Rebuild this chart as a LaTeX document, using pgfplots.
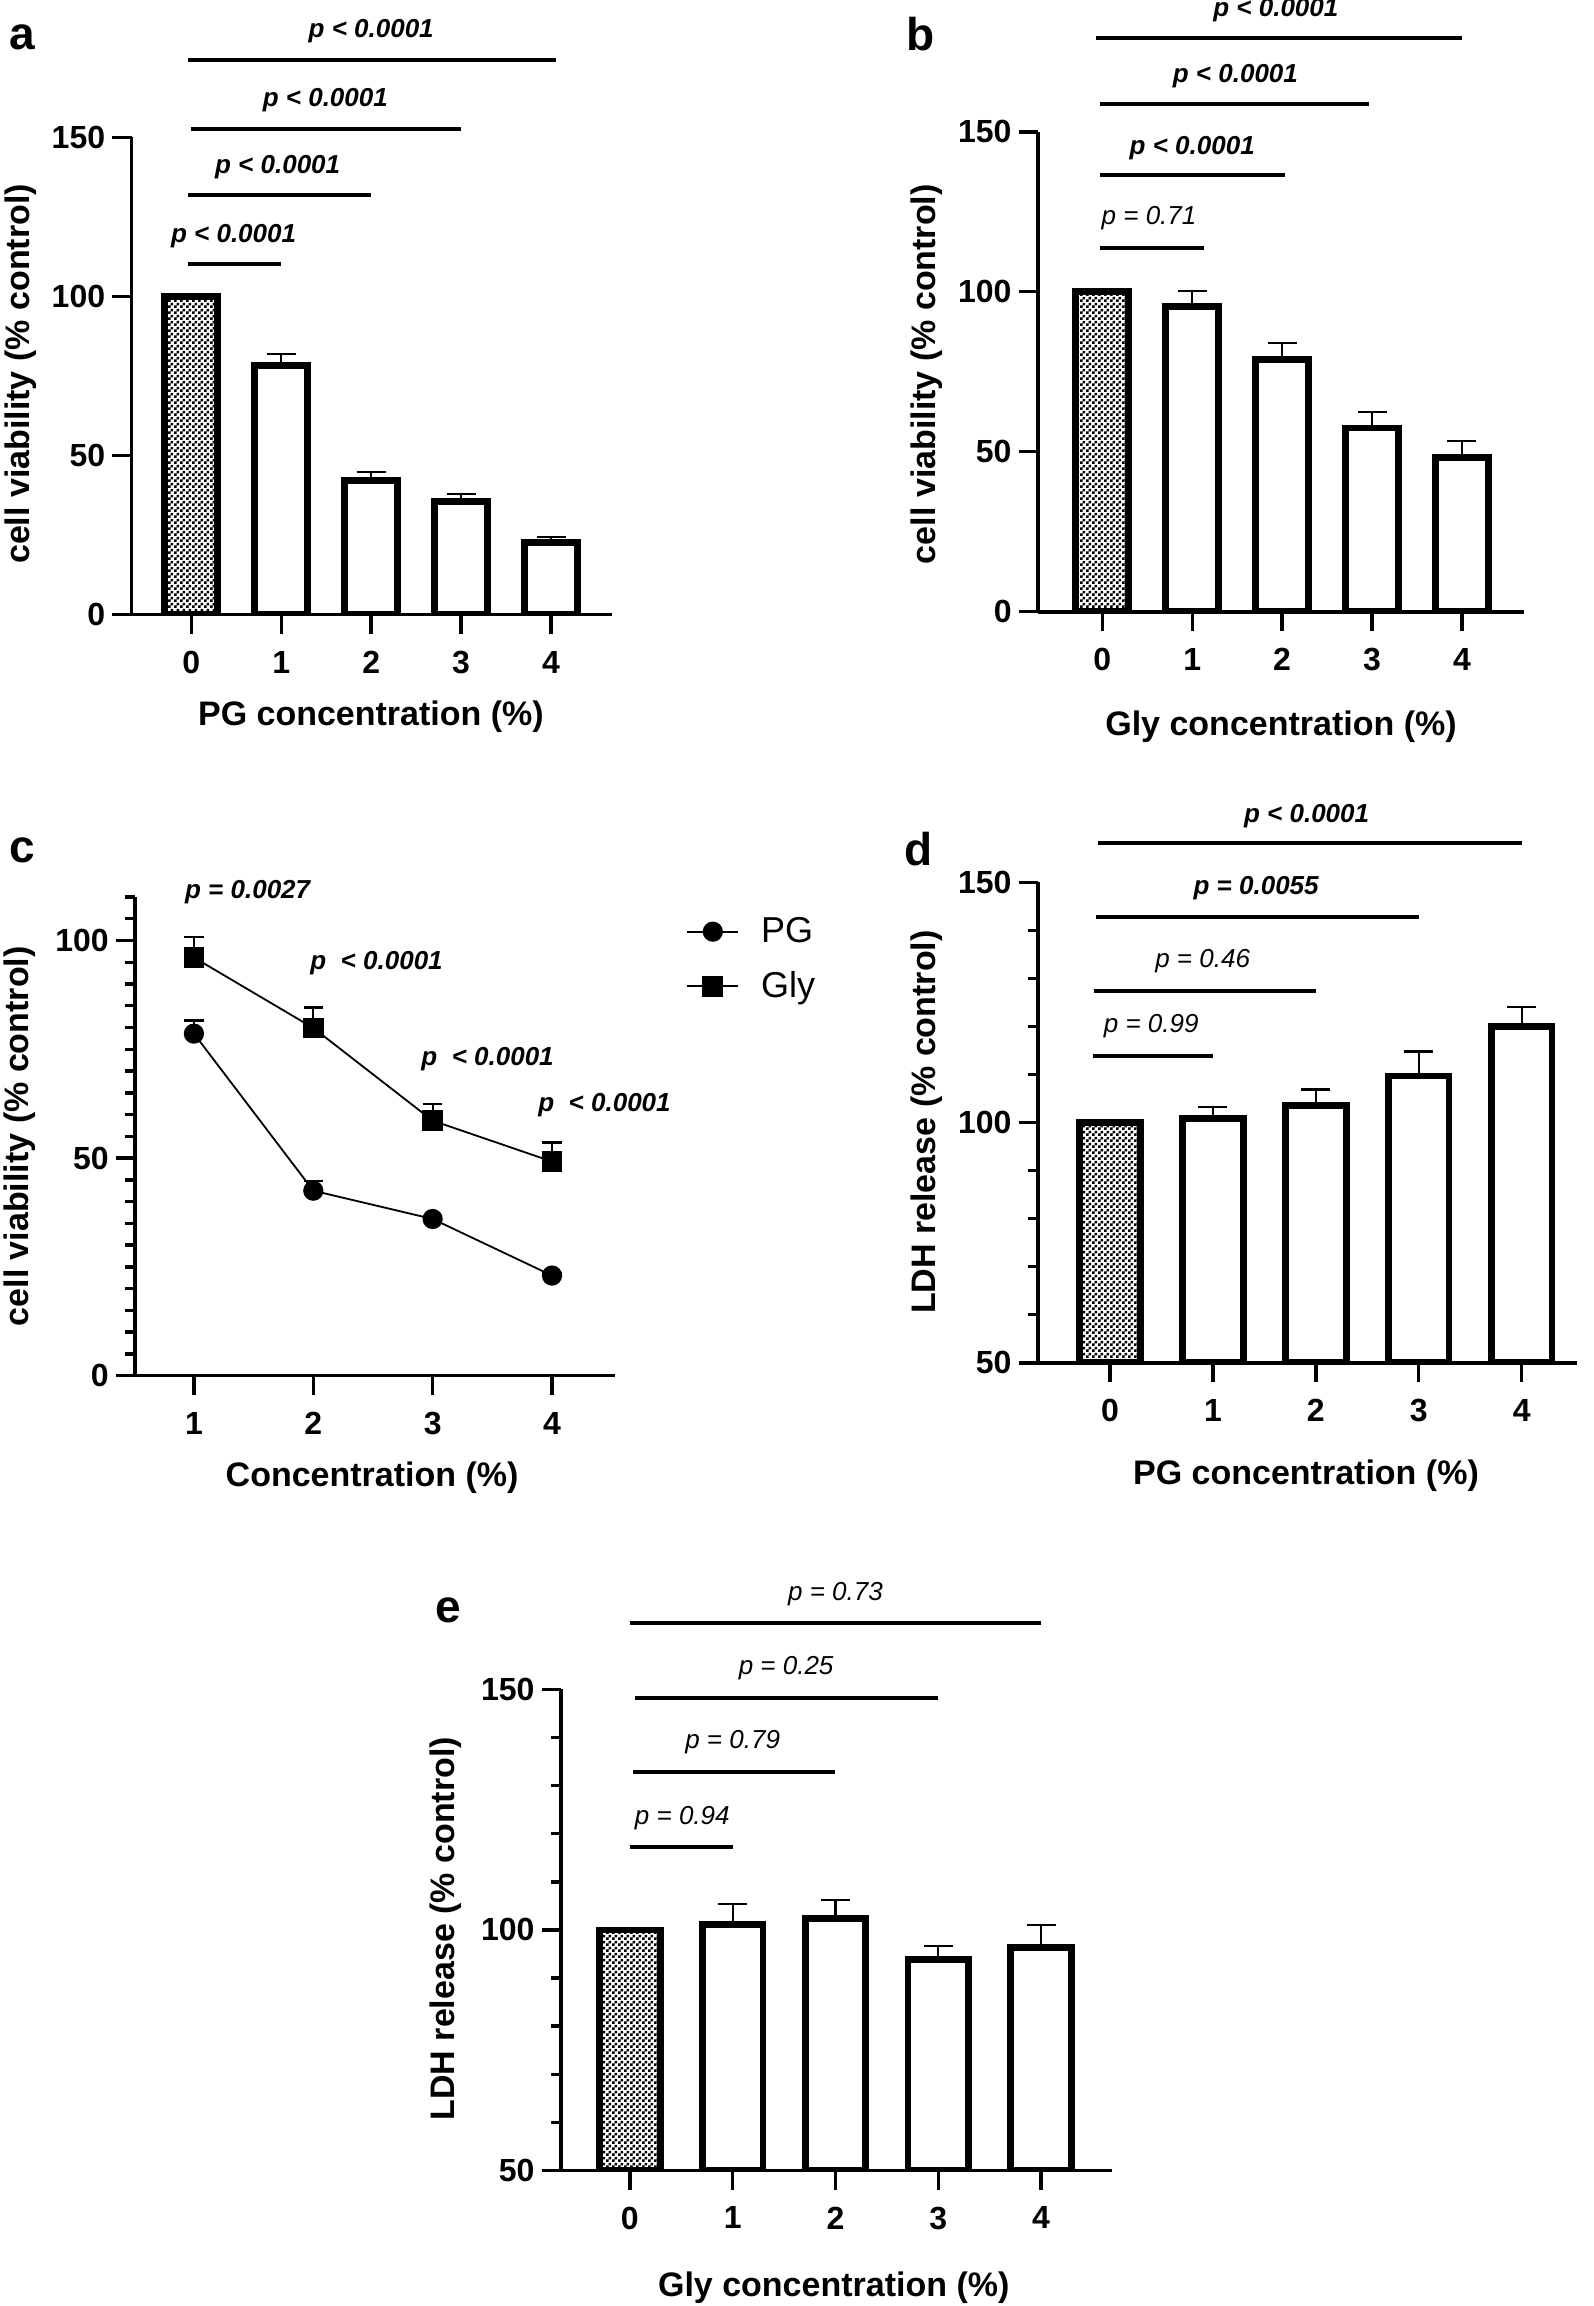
\documentclass[border=0pt]{standalone}
\usepackage{fontspec}
\setmainfont{Liberation Sans}
\usepackage{pgfplots}
\pgfplotsset{compat=1.18}
\usetikzlibrary{patterns}

\pgfdeclarepatternformonly{finecheck}{\pgfpointorigin}{\pgfpoint{3pt}{3pt}}{\pgfpoint{3pt}{3pt}}{%
  \pgfpathrectangle{\pgfpointorigin}{\pgfpoint{1.5pt}{1.5pt}}%
  \pgfpathrectangle{\pgfpoint{1.5pt}{1.5pt}}{\pgfpoint{1.5pt}{1.5pt}}%
  \pgfusepath{fill}}

\newcommand{\fs}[1]{\fontsize{#1pt}{#1pt}\selectfont}

\pgfplotsset{
  gp/.style={
    scale only axis,
    anchor=south west,
    axis x line=bottom, axis y line=left,
    axis line style={line width=1.8pt,-},
    tick align=outside,
    major tick length=9.7pt, minor tick length=5pt,
    every tick/.style={black, line width=1.7pt},
    /pgf/number format/assume math mode=true,
    ticklabel style={font=\fs{16}\bfseries},
    xticklabel style={yshift=-5pt},
    label style={font=\fs{17}\bfseries},
    clip mode=individual,
    xtick={0,1,2,3,4},
    ymin=0, ymax=150, ytick={0,50,100,150},
  },
  pbar/.style={ybar, bar shift=0pt, bar width=0.59, draw=black, line width=3.35pt},
  ebar/.style={error bars/.cd, y dir=plus, y explicit, error mark=-,
    error bar style={line width=1.1pt, black},
    error mark options={rotate=90, mark size=7.25pt, line width=1.1pt, black}},
  ebarc/.style={error bars/.cd, y dir=plus, y explicit, error mark=-,
    error bar style={line width=1.1pt, black},
    error mark options={rotate=90, mark size=4.85pt, line width=1.1pt, black}},
}
\tikzset{
  pb/.style={font=\fs{13}\bfseries\itshape, inner sep=0pt, anchor=center},
  pr/.style={font=\fs{13}\itshape, inner sep=0pt, anchor=center},
  sg/.style={line width=2pt, black},
  pl/.style={font=\fs{23}\bfseries, inner sep=0pt, anchor=base west},
}

\begin{document}
\begin{tikzpicture}

% ---------- a ----------
\begin{axis}[gp, at={(65.8pt,-307.3pt)}, width=240.3pt, height=238.7pt,
  xmin=-0.664, xmax=4.68,
  xlabel={PG concentration (\%)}, ylabel={cell viability (\% control)},
  xlabel style={at={(axis description cs:0.498,-0.2134)}, anchor=center},
  ylabel style={at={(axis description cs:-0.2314,0.504)}, anchor=center},
]
\addplot[pbar, pattern=finecheck] coordinates {(0,100)};
\addplot[pbar, fill=white, ebar] coordinates {(1,78.2) +- (0,3.6) (2,42.2) +- (0,2.5) (3,35.6) +- (0,2.3) (4,22.7) +- (0,1.7)};
\draw[sg] (axis cs:-0.04,110.1) -- (axis cs:1.0,110.1);
\draw[sg] (axis cs:-0.04,131.7) -- (axis cs:2.0,131.7);
\draw[sg] (axis cs:0,152.7) -- (axis cs:3.0,152.7);
\draw[sg] (axis cs:-0.04,174.2) -- (axis cs:4.06,174.2);
\node[pb] at (axis cs:0.47,118.9) {p < 0.0001};
\node[pb] at (axis cs:0.96,140.6) {p < 0.0001};
\node[pb] at (axis cs:1.49,161.6) {p < 0.0001};
\node[pb] at (axis cs:2.0,183.2) {p < 0.0001};
\end{axis}

% ---------- b ----------
\begin{axis}[gp, at={(519pt,-305.85pt)}, width=243pt, height=239.95pt,
  xmin=-0.715, xmax=4.69,
  xlabel={Gly concentration (\%)}, ylabel={cell viability (\% control)},
  xlabel style={at={(axis description cs:0.5,-0.240)}, anchor=center},
  ylabel style={at={(axis description cs:-0.229,0.495)}, anchor=center},
]
\addplot[pbar, pattern=finecheck] coordinates {(0,100)};
\addplot[pbar, fill=white, ebar] coordinates {(1,95.5) +- (0,4.8) (2,78.8) +- (0,5.3) (3,57.4) +- (0,4.9) (4,48.3) +- (0,5.0)};
\draw[sg] (axis cs:-0.03,113.6) -- (axis cs:1.13,113.6);
\draw[sg] (axis cs:-0.03,136.4) -- (axis cs:2.03,136.4);
\draw[sg] (axis cs:-0.03,158.6) -- (axis cs:2.97,158.6);
\draw[sg] (axis cs:-0.07,179.4) -- (axis cs:4.0,179.4);
\node[pr] at (axis cs:0.52,123.0) {p = 0.71};
\node[pb] at (axis cs:1.0,145.0) {p < 0.0001};
\node[pb] at (axis cs:1.48,167.3) {p < 0.0001};
\node[pb] at (axis cs:1.93,187.9) {p < 0.0001};
\end{axis}

% ---------- c ----------
\begin{axis}[gp, at={(67.6pt,-687.8pt)}, width=239.8pt, height=239.3pt,
  xmin=0.508, xmax=4.526, ymin=0, ymax=110,
  xtick={1,2,3,4}, ytick={0,50,100}, minor ytick={5,10,...,110},
  xlabel={Concentration (\%)}, ylabel={cell viability (\% control)},
  xlabel style={at={(axis description cs:0.494,-0.213)}, anchor=center},
  ylabel style={at={(axis description cs:-0.2415,0.50)}, anchor=center},
  legend style={at={(axis description cs:1.1485,0.870)}, anchor=west, draw=none, fill=none,
    inner sep=0pt, font=\fs{18}, row sep=9pt, cells={anchor=west},
    /tikz/every odd column/.append style={column sep=9pt}},
  legend image code/.code={\draw[mark repeat=2,mark phase=2,#1] plot coordinates {(0pt,0pt) (12.75pt,0pt) (25.5pt,0pt)};},
]
\addplot[black, line width=0.9pt, mark=*, mark size=4.6pt, ebarc] coordinates {(1,78.6) +- (0,3.0) (2,42.5) +- (0,2.2) (3,36.0) +- (0,0.5) (4,23.0) +- (0,0.5)};
\addplot[black, line width=0.9pt, mark=square*, mark size=4.75pt, ebarc] coordinates {(1,96.1) +- (0,4.8) (2,79.9) +- (0,4.7) (3,58.6) +- (0,3.9) (4,49.2) +- (0,4.4)};
\legend{PG, Gly}
\node[pb] at (axis cs:1.45,111.2) {p = 0.0027};
\node[pb] at (axis cs:2.53,94.8) {p\ \ < 0.0001};
\node[pb] at (axis cs:3.46,72.7) {p\ \ < 0.0001};
\node[pb] at (axis cs:4.44,62.1) {p\ \ < 0.0001};
\end{axis}

% ---------- d ----------
\begin{axis}[gp, at={(519pt,-681.4pt)}, width=269.6pt, height=240.2pt,
  xmin=-0.70, xmax=4.54, ymin=50, ymax=150,
  ytick={50,100,150}, minor ytick={60,70,80,90,110,120,130,140},
  xlabel={PG concentration (\%)}, ylabel={LDH release (\% control)},
  xlabel style={at={(axis description cs:0.497,-0.2356)}, anchor=center},
  ylabel style={at={(axis description cs:-0.2066,0.501)}, anchor=center},
]
\addplot[pbar, pattern=finecheck] coordinates {(0,100)};
\addplot[pbar, fill=white, ebar] coordinates {(1,100.8) +- (0,2.4) (2,103.6) +- (0,3.3) (3,109.7) +- (0,5.1) (4,120.0) +- (0,4.1)};
\draw[sg] (axis cs:-0.17,113.9) -- (axis cs:1.0,113.9);
\draw[sg] (axis cs:-0.16,127.4) -- (axis cs:2.0,127.4);
\draw[sg] (axis cs:-0.14,142.9) -- (axis cs:3.0,142.9);
\draw[sg] (axis cs:-0.12,158.3) -- (axis cs:4.0,158.3);
\node[pr] at (axis cs:0.40,120.0) {p = 0.99};
\node[pr] at (axis cs:0.90,133.7) {p = 0.46};
\node[pb] at (axis cs:1.42,148.9) {p = 0.0055};
\node[pb] at (axis cs:1.91,163.9) {p < 0.0001};
\end{axis}

% ---------- e ----------
\begin{axis}[gp, at={(280.5pt,-1085.2pt)}, width=275.5pt, height=240.5pt,
  xmin=-0.67, xmax=4.69, ymin=50, ymax=150,
  ytick={50,100,150}, minor ytick={60,70,80,90,110,120,130,140},
  xlabel={Gly concentration (\%)}, ylabel={LDH release (\% control)},
  xlabel style={at={(axis description cs:0.495,-0.2445)}, anchor=center},
  ylabel style={at={(axis description cs:-0.2087,0.5025)}, anchor=center},
]
\addplot[pbar, pattern=finecheck] coordinates {(0,100)};
\addplot[pbar, fill=white, ebar] coordinates {(1,101.2) +- (0,4.2) (2,102.4) +- (0,3.8) (3,93.8) +- (0,2.9) (4,96.3) +- (0,4.7)};
\draw[sg] (axis cs:0,117.2) -- (axis cs:1.0,117.2);
\draw[sg] (axis cs:0.03,132.8) -- (axis cs:2.0,132.8);
\draw[sg] (axis cs:0.05,148.2) -- (axis cs:3.0,148.2);
\draw[sg] (axis cs:0,163.8) -- (axis cs:4.0,163.8);
\node[pr] at (axis cs:0.51,123.2) {p = 0.94};
\node[pr] at (axis cs:1.0,139.0) {p = 0.79};
\node[pr] at (axis cs:1.52,154.5) {p = 0.25};
\node[pr] at (axis cs:2.0,169.8) {p = 0.73};
\end{axis}

% panel letters
\node[pl] at (4.5pt,-24.75pt) {a};
\node[pl] at (453pt,-25.5pt) {b};
\node[pl] at (4.5pt,-431.3pt) {c};
\node[pl] at (452pt,-432.5pt) {d};
\node[pl] at (217.5pt,-811pt) {e};

\pgfresetboundingbox
\useasboundingbox (0pt,0pt) rectangle (797pt,-1153pt);
\end{tikzpicture}
\end{document}
